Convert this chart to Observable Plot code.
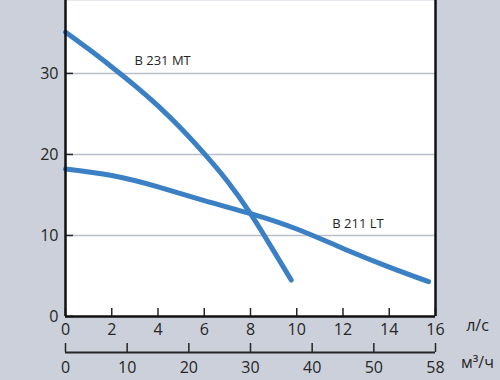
<!DOCTYPE html>
<html><head><meta charset="utf-8">
<script src="https://cdn.jsdelivr.net/npm/d3@7"></script>
<script src="https://cdn.jsdelivr.net/npm/@observablehq/plot@0.6"></script>
<style>
html,body{margin:0;padding:0;background:#cbd0da;}
</style></head><body><div id="chart"></div>
<script>
// Flow (l/s) and head (m)
const flowB231 = [0, 1, 2, 3, 4, 5, 6, 7, 8, 9, 9.76];
const headB231 = [35.1, 33.0, 30.8, 28.5, 26.0, 23.2, 20.1, 16.7, 12.7, 8.1, 4.5];
const flowB211 = [0, 2, 4, 6, 8, 10, 12, 14, 15.7];
const headB211 = [18.2, 17.4, 16.0, 14.3, 12.7, 10.8, 8.4, 6.1, 4.3];

const seriesNames = ["B 231 MT", "B 211 LT"];
const labelFlow = [4.2, 12.65];
const labelHead = [31.5, 11.4];

const yTicks = [0, 10, 20, 30];
const gridTicks = [10, 20, 30];
const xTicksLs = [0, 2, 4, 6, 8, 10, 12, 14, 16];
// second axis (m³/h): tick positions on the 0–60 m³/h span, last one labelled 58
const m3hTickValues = [0, 10, 20, 30, 40, 50, 60];
const m3hTickLabels = ["0", "10", "20", "30", "40", "50", "58"];
const unitLs = "л/с";
const unitM3h = "м³/ч";

const rows = [
  ...flowB231.map((q, i) => ({q, h: headB231[i], s: seriesNames[0]})),
  ...flowB211.map((q, i) => ({q, h: headB211[i], s: seriesNames[1]}))
];
const labels = seriesNames.map((s, i) => ({s, q: labelFlow[i], h: labelHead[i]}));
const m3hPos = m3hTickValues.map(v => v * 16 / 60);
const m3hLabelMap = new Map(m3hPos.map((p, i) => [p, m3hTickLabels[i]]));

const ink = "#262626";
const chart = Plot.plot({
  width: 500, height: 380,
  marginLeft: 65, marginRight: 65, marginTop: 0, marginBottom: 64,
  style: {background: "#cbd0da", fontFamily: "'Open Sans', sans-serif", fontSize: "16px", color: ink},
  x: {domain: [0, 16]},
  y: {domain: [0, 39]},
  marks: [
    Plot.frame({fill: "white", stroke: "none"}),
    Plot.ruleY(gridTicks, {stroke: "#b9c0ca", strokeWidth: 1.5}),
    Plot.axisY(yTicks, {anchor: "left", tickSize: -8, tickPadding: 15, stroke: ink, strokeWidth: 1.5, fill: ink, fontSize: 16, label: null}),
    Plot.axisX(xTicksLs, {anchor: "bottom", tickSize: -8, tickPadding: 15, stroke: ink, strokeWidth: 1.5, fill: ink, fontSize: 16, label: null}),
    Plot.axisX(m3hPos, {anchor: "bottom", dy: 36, tickSize: -9, tickPadding: 18, stroke: ink, strokeWidth: 1.5, fill: ink, fontSize: 16, label: null, tickFormat: d => m3hLabelMap.get(d)}),
    Plot.ruleY([0], {dy: 36, stroke: ink, strokeWidth: 2}),
    Plot.line(rows, {x: "q", y: "h", z: "s", stroke: "#3b80c4", strokeWidth: 5, curve: "natural"}),
    Plot.ruleX([0, 16], {stroke: "#111", strokeWidth: 2.5}),
    Plot.ruleY([0], {stroke: "#111", strokeWidth: 2.5}),
    Plot.text(labels, {x: "q", y: "h", text: "s", fontSize: 13, fill: ink}),
    Plot.text([unitLs], {frameAnchor: "bottom-right", textAnchor: "middle", dx: 42, dy: 14, fontSize: 16, fill: ink}),
    Plot.text([unitM3h], {frameAnchor: "bottom-right", textAnchor: "middle", dx: 42, dy: 51, fontSize: 16, fill: ink})
  ]
});
document.getElementById("chart").appendChild(chart);
</script></body></html>
